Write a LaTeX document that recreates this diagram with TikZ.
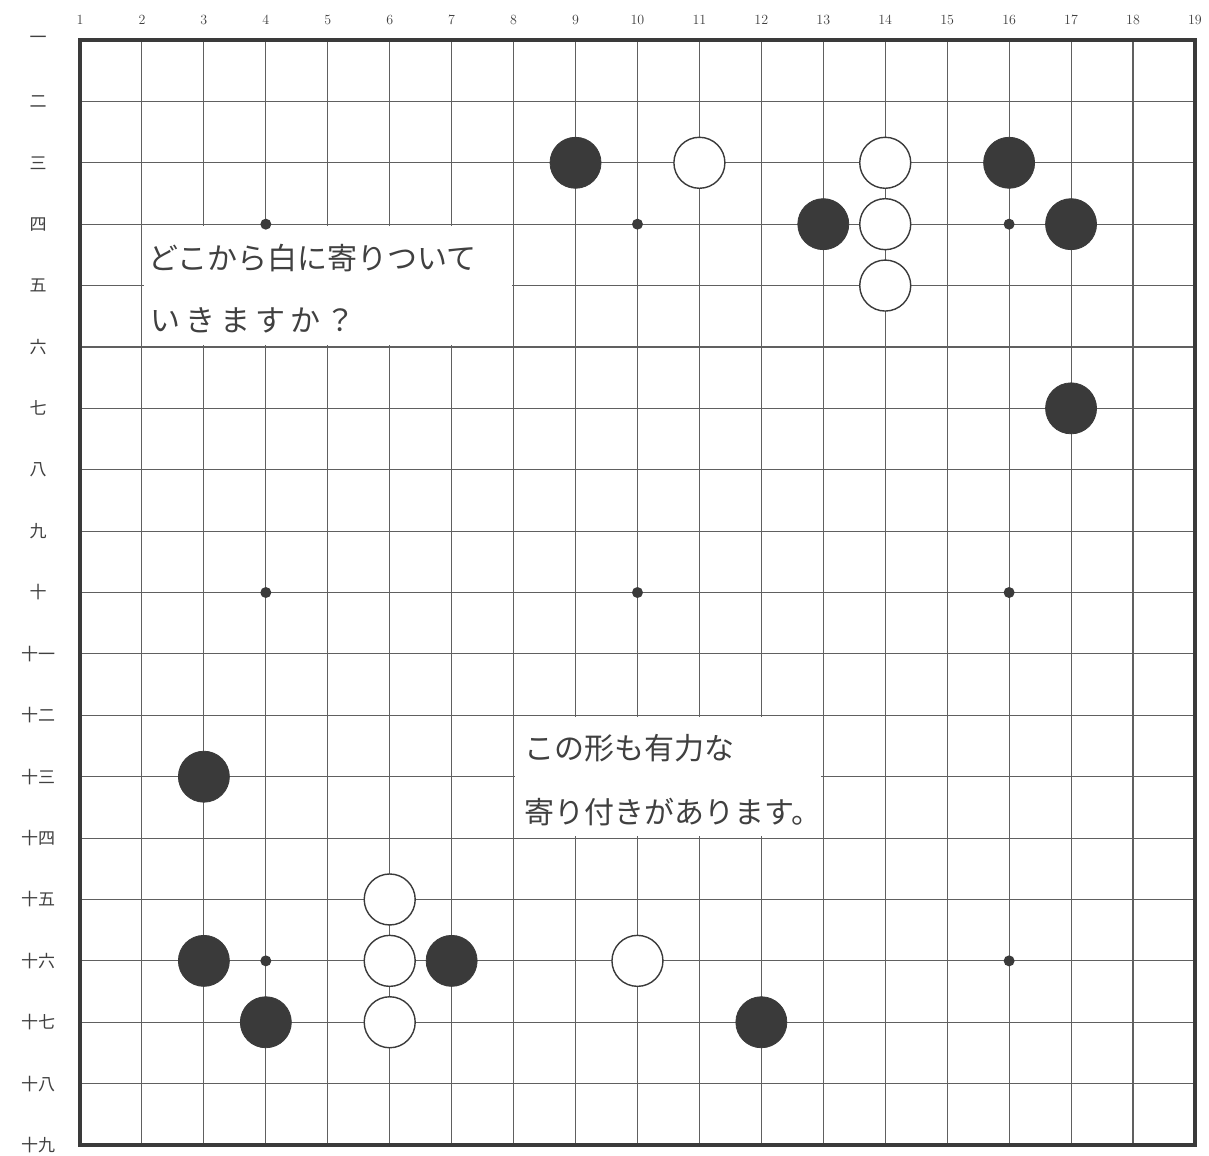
\documentclass[tikz,border=0pt]{standalone}
\usepackage{fontspec}
\newfontfamily\jp{Noto Sans CJK JP}
\definecolor{ink}{HTML}{3A3A3A}
\definecolor{gridc}{HTML}{606060}
\definecolor{txt}{HTML}{404040}
\begin{document}
\begin{tikzpicture}[x=61.94pt,y=-61.39pt,shift={(-1,-1)},
  gridline/.style={draw=gridc,line width=1.1pt},
  border/.style={draw=ink,line width=3.5pt},
  bstone/.style={circle,fill=ink,draw=ink,line width=0.8pt,minimum size=51pt,inner sep=0pt},
  wstone/.style={circle,fill=white,draw=ink,line width=1.4pt,minimum size=51pt,inner sep=0pt},
  hoshi/.style={circle,fill=ink,minimum size=11pt,inner sep=0pt},
  collab/.style={font=\fontsize{14}{14}\selectfont,text=txt},
  rowlab/.style={font=\jp\fontsize{17}{17}\selectfont,text=txt},
  comment/.style={font=\jp\fontsize{30}{30}\selectfont,text=txt,anchor=west,inner sep=0pt}]
\useasboundingbox (-0.2916,0.3484) rectangle (19.227,19.163);
\fill[white] (-0.2916,0.3484) rectangle (19.227,19.163);
% grid
\foreach \i in {2,...,18} { \draw[gridline] (\i,1) -- (\i,19); }
\foreach \j in {2,...,18} { \draw[gridline] (1,\j) -- (19,\j); }
% text boxes (blank areas)
\fill[white] (2.03,4.03) rectangle (7.97,5.97);
\fill[white] (8.03,12.03) rectangle (12.97,13.97);
% border
\draw[border] (1,1) rectangle (19,19);
% labels
\foreach \i in {1,...,19} { \node[collab] (c\i) at (\i,0.674) {\i}; }
\foreach \j/\k in {1/一,2/二,3/三,4/四,5/五,6/六,7/七,8/八,9/九,10/十,11/十一,12/十二,13/十三,14/十四,15/十五,16/十六,17/十七,18/十八,19/十九}
  { \node[rowlab] (r\j) at (0.322,\j) {\k}; }
% star points
\foreach \i/\j in {4/4,10/4,16/4,4/10,10/10,16/10,4/16,16/16}
  { \node[hoshi] (h\i-\j) at (\i,\j) {}; }
% black stones
\foreach \i/\j in {9/3,16/3,13/4,17/4,17/7,3/13,3/16,7/16,4/17,12/17}
  { \node[bstone] (b\i-\j) at (\i,\j) {}; }
% white stones
\foreach \i/\j in {11/3,14/3,14/4,14/5,6/15,6/16,10/16,6/17}
  { \node[wstone] (w\i-\j) at (\i,\j) {}; }
% comments
\node[comment] (t1) at (2.098,4.551) {どこから白に寄りついて};
\node[comment] (t2) at (2.13,5.56) {い\,き\,ま\,す\,か\,？};
\node[comment] (t3) at (8.18,12.53) {この形も有力な};
\node[comment] (t4) at (8.18,13.575) {寄り付きがあります。};
\end{tikzpicture}
\end{document}
